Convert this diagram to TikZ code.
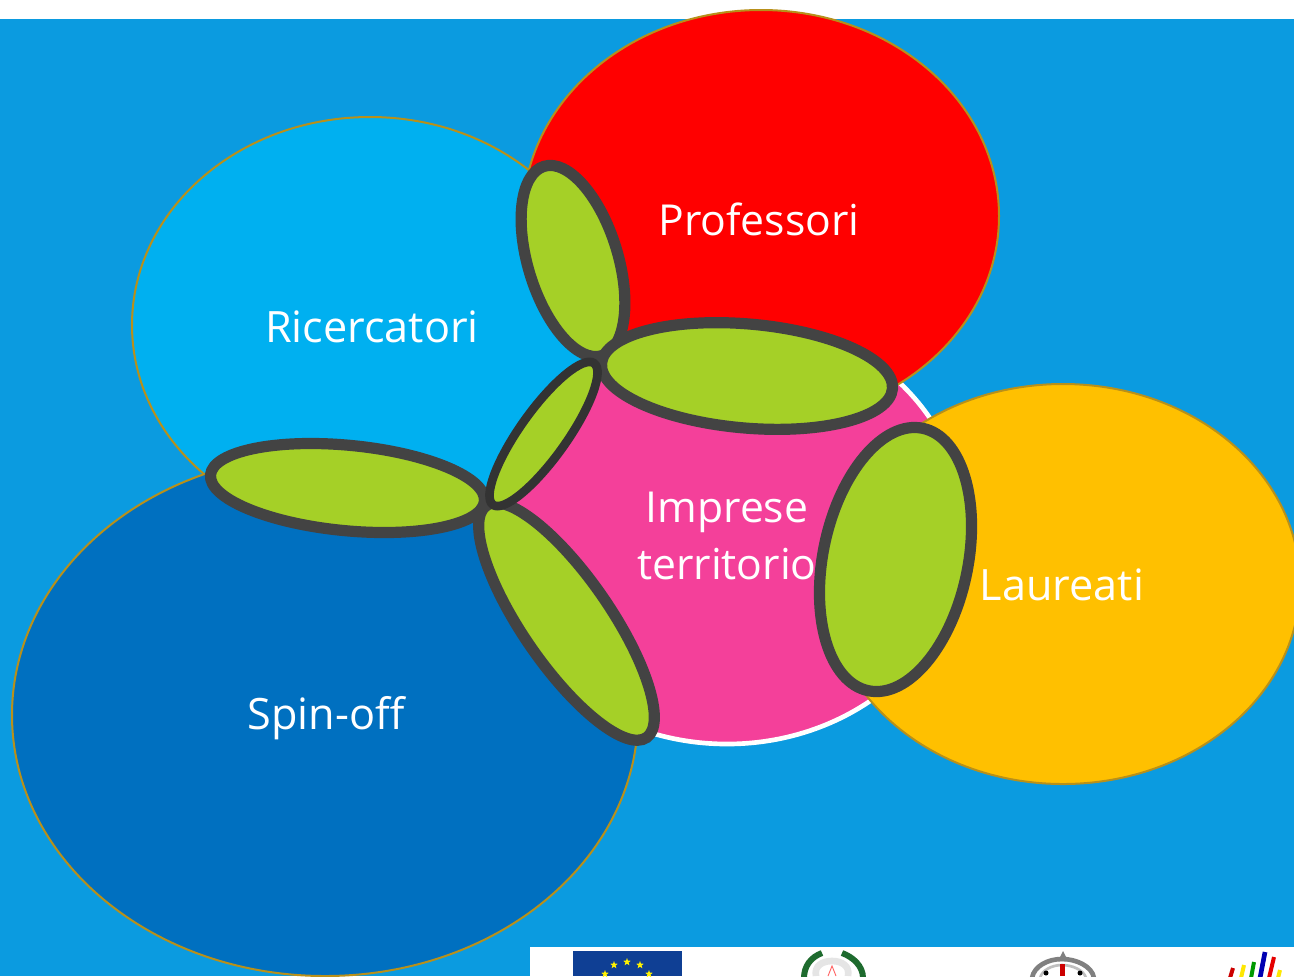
\documentclass[tikz,border=0pt]{standalone}
\usepackage{fontspec}
\usetikzlibrary{shapes.geometric}
\setmainfont{Open Sans}
\definecolor{bgblue}{HTML}{0B9BE0}
\definecolor{rim}{HTML}{B8901A}
\definecolor{ricblue}{HTML}{00B0F0}
\definecolor{spinblue}{HTML}{0070C0}
\definecolor{profred}{HTML}{FF0000}
\definecolor{laurgold}{HTML}{FFC000}
\definecolor{pinkimp}{HTML}{F4409A}
\definecolor{lensgreen}{HTML}{A5D027}
\definecolor{lensrim}{HTML}{434343}
\definecolor{euflag}{HTML}{0F3F94}
\definecolor{wreath}{HTML}{1E6B2E}
\tikzset{
  blob/.style={draw=rim,line width=1.5pt},
  lens/.style={fill=lensgreen,draw=lensrim,line width=8.4pt},
  darklens/.style={fill=lensgreen,draw=black!80,line width=6.5pt},
  txtlabel/.style={text=white,font=\fontsize{32.4}{43}\selectfont,align=center,inner sep=0pt},
  txtsmall/.style={txtlabel,font=\fontsize{32}{43}\selectfont},
  eustar/.style={star,star points=5,star point ratio=2.4,fill=yellow,inner sep=0pt,minimum size=6pt},
  bar/.style={line width=3pt},
}
\begin{document}
\begin{tikzpicture}[x=0.75pt,y=-0.75pt]
\useasboundingbox (0,0) rectangle (1294,976);
\fill[white] (0,0) rectangle (1294,976);
\fill[bgblue] (0,19) rectangle (1294,976);
\fill[white] (530,947) rectangle (1294,976);
% logos
\begin{scope}
\clip (530,947) rectangle (1294,976);
\fill[euflag] (573,951) rectangle (682,976);
\foreach \a/\b in {627/962,614/965,640/965,605/974,649/974}{\node[eustar] at (\a,\b) {};}
\draw[gray!20,line width=5pt] (816,976) .. controls (814,966) and (822,961) .. (832,961) .. controls (842,961) and (850,966) .. (848,976);
\draw[wreath,line width=4.5pt] (822,953) .. controls (811,957) and (804,966) .. (804,978);
\draw[wreath,line width=4.5pt] (842,953) .. controls (853,957) and (863,966) .. (863,978);
\draw[red!60,line width=.7pt] (828,976) -- (832,966) -- (836,976);
\draw[gray,line width=3.5pt] (1032,978) .. controls (1034,966) and (1048,959) .. (1062,959) .. controls (1076,959) and (1092,966) .. (1094,978);
\draw[gray!50,line width=2pt] (1040,978) .. controls (1042,970) and (1052,965) .. (1062,965) .. controls (1072,965) and (1084,970) .. (1086,978);
\fill[gray] (1063,951) -- (1068,961) -- (1058,961) -- cycle;
\fill[red!80!black] (1060,964) rectangle (1065,976);
\fill[black] (1046,973) circle (2.5);
\fill[black] (1080,973) circle (2.5);
\draw[red!80!black,bar] (1230,978) -- (1233,968);
\draw[yellow!90!orange,bar] (1241,978) -- (1244,965);
\draw[green!60!black,bar] (1251,978) -- (1254,962);
\draw[blue!70!black,bar,line width=3.5pt] (1260,978) -- (1265,952);
\draw[red!90!black,bar] (1269,978) -- (1274,957);
\draw[yellow!90!orange,bar] (1278,978) -- (1280,970);
\end{scope}
% circles
\begin{scope}
\clip (0,0) rectangle (1294,976);
\draw[white,line width=3.5pt,fill=pinkimp] (727,530) ellipse (238 and 214);
\draw[blob,fill=ricblue] (370,325) ellipse (238 and 208);
\draw[blob,fill=spinblue] (325,715) ellipse (313 and 261);
\draw[blob,fill=profred] (761,216) ellipse (238 and 206);
\draw[blob,fill=laurgold] (1063,584) ellipse (237 and 200);
\end{scope}
% lenses
\draw[lens] (573,261) [rotate around={-73:(573,261)}] ellipse (99 and 45);
\draw[lens] (747,376) [rotate around={-5:(747,376)}] ellipse (146 and 52);
\draw[lens] (347.5,488) [rotate around={-5.5:(347.5,488)}] ellipse (137.6 and 42.7);
\draw[lens] (566.5,621.5) [rotate around={-55.4:(566.5,621.5)}] ellipse (141 and 43.8);
\draw[lens] (895.5,559.5) [rotate around={78.3:(895.5,559.5)}] ellipse (134 and 72.5);
\draw[darklens] (543.5,434) [rotate around={54.5:(543.5,434)}] ellipse (87 and 23.4);
% labels
\node[txtsmall] (prof) at (759,219) {Professori};
\node[txtlabel] (ric) at (372,327) {Ricercatori};
\node[txtsmall] (imp) at (727,536) {Imprese\\territorio};
\node[txtlabel] (laur) at (1062,585) {Laureati};
\node[txtlabel] (spin) at (326,718) {Spin-off};
\end{tikzpicture}
\end{document}
